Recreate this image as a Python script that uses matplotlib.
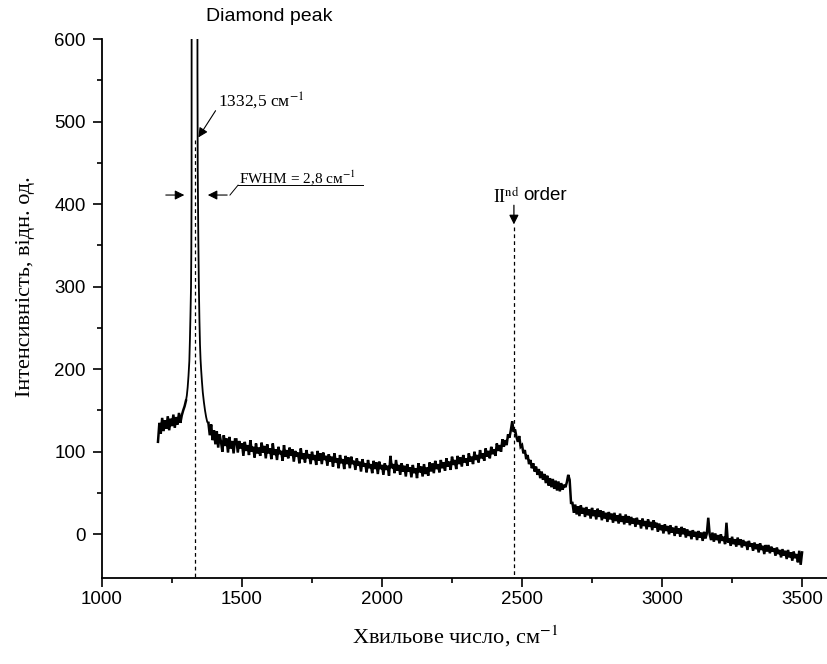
import numpy as np
import matplotlib
matplotlib.use('Agg')
import matplotlib.pyplot as plt
from matplotlib.ticker import MultipleLocator, FixedLocator

plt.rcParams['font.family'] = 'Liberation Sans'
plt.rcParams['mathtext.fontset'] = 'stix'

# spectrum before the diamond peak, 1200..1300 step 5
low_x = np.arange(1200, 1305, 5)
low_y = [112, 135, 122, 141, 125, 138, 128, 143, 126, 140, 131,
         145, 129, 142, 133, 147, 135, 144, 150, 155, 162]

# diamond peak (top goes off scale)
peak_x = [1303, 1306, 1309, 1312, 1314, 1316, 1318, 1319, 1320, 1321,
          1340, 1341, 1342, 1344, 1346, 1348, 1350, 1352, 1354, 1357,
          1360, 1364, 1368, 1372, 1376]
peak_y = [168, 178, 192, 210, 235, 265, 300, 340, 420, 1500,
          1500, 560, 440, 360, 300, 260, 230, 212, 200, 185,
          172, 160, 150, 142, 136]

# rest of the spectrum, 1380..3500 step 5 (one row = 100 cm-1)
high_x = np.arange(1380, 3505, 5)
high_y = [
    135, 120, 133, 114, 126, 109, 125, 105, 121, 112, 100, 120, 107, 116, 99, 118, 104, 113, 98, 115,
    115, 99, 113, 104, 110, 95, 112, 101, 108, 96, 114, 100, 106, 93, 110, 98, 105, 95, 111, 99,
    107, 92, 109, 98, 104, 91, 110, 96, 103, 90, 106, 97, 101, 89, 108, 94, 102, 92, 105, 95,
    103, 88, 101, 94, 99, 86, 104, 91, 98, 87, 102, 92, 97, 85, 100, 90, 96, 84, 101, 89,
    98, 85, 99, 90, 95, 83, 97, 88, 94, 82, 98, 87, 92, 80, 96, 86, 91, 79, 95, 85,
    93, 80, 94, 85, 89, 78, 92, 83, 88, 76, 91, 82, 86, 75, 90, 80, 85, 74, 89, 79,
    87, 73, 88, 79, 84, 72, 86, 78, 83, 71, 95, 80, 85, 74, 90, 77, 84, 72, 86, 76,
    83, 70, 85, 76, 81, 69, 84, 74, 80, 68, 86, 75, 82, 70, 85, 73, 81, 71, 87, 76,
    86, 74, 89, 79, 85, 75, 90, 80, 87, 77, 92, 82, 88, 78, 94, 84, 90, 79, 95, 85,
    93, 82, 96, 87, 92, 83, 98, 88, 94, 85, 100, 90, 96, 87, 102, 92, 98, 89, 104, 94,
    101, 92, 106, 97, 103, 95, 110, 101, 108, 100, 115, 106, 114, 108, 121, 117, 126, 137, 124, 127,
    118, 112, 119, 106, 108, 98, 102, 91, 96, 85, 90, 80, 86, 76, 82, 72, 79, 68, 76, 66,
    73, 62, 71, 59, 68, 57, 67, 55, 65, 53, 64, 52, 62, 54, 60, 57, 63, 72, 66, 38,
    38, 26, 36, 24, 34, 22, 35, 25, 32, 21, 33, 23, 30, 19, 32, 22, 29, 18, 31, 21,
    29, 17, 28, 19, 26, 15, 27, 18, 25, 14, 26, 16, 23, 13, 25, 15, 22, 12, 24, 14,
    22, 11, 21, 13, 19, 9, 20, 12, 17, 7, 19, 10, 16, 6, 18, 9, 15, 5, 17, 8,
    14, 3, 13, 5, 11, 1, 12, 4, 10, 0, 11, 2, 8, -2, 10, 1, 7, -3, 9, 0,
    7, -4, 6, -2, 4, -6, 5, -3, 3, -7, 4, -4, 2, -8, 3, -5, 1, 20, 0, -7,
    2, -9, 1, -7, -1, -11, 0, -8, -3, -12, 14, -10, -5, -14, -3, -12, -6, -15, -4, -13,
    -6, -16, -7, -14, -9, -19, -8, -15, -11, -20, -10, -18, -12, -22, -11, -19, -14, -24, -13, -21,
    -13, -23, -15, -21, -17, -26, -16, -24, -19, -28, -18, -26, -20, -30, -19, -28, -22, -32, -21, -29,
    -24, -34, -20, -37, -22,
]

diamond_pos = 1332
second_order_pos = 2471

fig = plt.figure(figsize=(8.27, 6.64), dpi=100, facecolor='white')
ax = fig.add_axes([0.1233, 0.1295, 0.8767, 0.8117])

# noisy parts drawn heavier, the narrow diamond peak thinner
ax.plot(low_x, low_y, color='black', lw=1.8, solid_joinstyle='miter')
ax.plot(np.concatenate([low_x[-1:], peak_x, high_x[:1]]),
        np.concatenate([low_y[-1:], peak_y, high_y[:1]]), color='black', lw=1.3)
ax.plot(high_x, high_y, color='black', lw=1.8, solid_joinstyle='miter')

ax.set_xlim(1000, 3589)
ax.set_ylim(-53, 600)

for s in ['top', 'right']:
    ax.spines[s].set_visible(False)
for s in ['left', 'bottom']:
    ax.spines[s].set_linewidth(1.3)

ax.xaxis.set_major_locator(FixedLocator([1000, 1500, 2000, 2500, 3000, 3500]))
ax.xaxis.set_minor_locator(FixedLocator([1250, 1750, 2250, 2750, 3250]))
ax.yaxis.set_major_locator(MultipleLocator(100))
ax.yaxis.set_minor_locator(FixedLocator([50, 150, 250, 350, 450, 550]))
ax.tick_params(which='major', direction='out', length=6.5, width=1.2, labelsize=13.5)
ax.tick_params(which='minor', direction='out', length=3.5, width=1.2)
ax.tick_params(axis='y', pad=5)
ax.tick_params(axis='x', pad=3)

ax.set_xlabel('Хвильове число, см$^{-1}$', family='Liberation Serif', fontsize=16)
ax.set_ylabel('Інтенсивність, відн. од.', family='Liberation Serif', fontsize=16)
ax.xaxis.set_label_coords(0.487, -0.085)
ax.yaxis.set_label_coords(-0.093, 0.54)

# dashed guide lines
ax.plot([diamond_pos, diamond_pos], [478, -53], ls=(0, (3, 2.5)), color='black', lw=0.9)
ax.plot([second_order_pos, second_order_pos], [372, -53], ls=(0, (3, 2.5)), color='black', lw=0.9)

# labels
ax.text(1596, 627, 'Diamond peak', fontsize=14, ha='center', va='center', clip_on=False)

ax.text(1414, 526, '1332,5 см$^{-1}$', family='Liberation Serif', fontsize=12.5, va='center')
ax.annotate('', xy=(1339, 478), xytext=(1411, 516),
            arrowprops=dict(arrowstyle='-|>', color='black', lw=0.8, mutation_scale=14))

ax.text(1490, 432, 'FWHM = 2,8 см$^{-1}$', family='Liberation Serif', fontsize=11, va='center')
ax.plot([1486, 1932], [423, 423], color='black', lw=0.7)
ax.plot([1457, 1486], [411, 423], color='black', lw=0.7)
ax.annotate('', xy=(1304, 411), xytext=(1218, 411),
            arrowprops=dict(arrowstyle='-|>', color='black', lw=0.8, mutation_scale=14))
ax.annotate('', xy=(1368, 411), xytext=(1457, 411),
            arrowprops=dict(arrowstyle='-|>', color='black', lw=0.8, mutation_scale=14))

ax.text(2395, 409, 'II$^{\\mathrm{nd}}$', family='Liberation Serif', fontsize=13, va='center')
ax.text(2506, 410, 'order', fontsize=13.5, va='center')
ax.annotate('', xy=(second_order_pos, 372), xytext=(second_order_pos, 402),
            arrowprops=dict(arrowstyle='-|>', color='black', lw=0.9, mutation_scale=14))

plt.savefig('out.png', dpi=100, facecolor='white')
